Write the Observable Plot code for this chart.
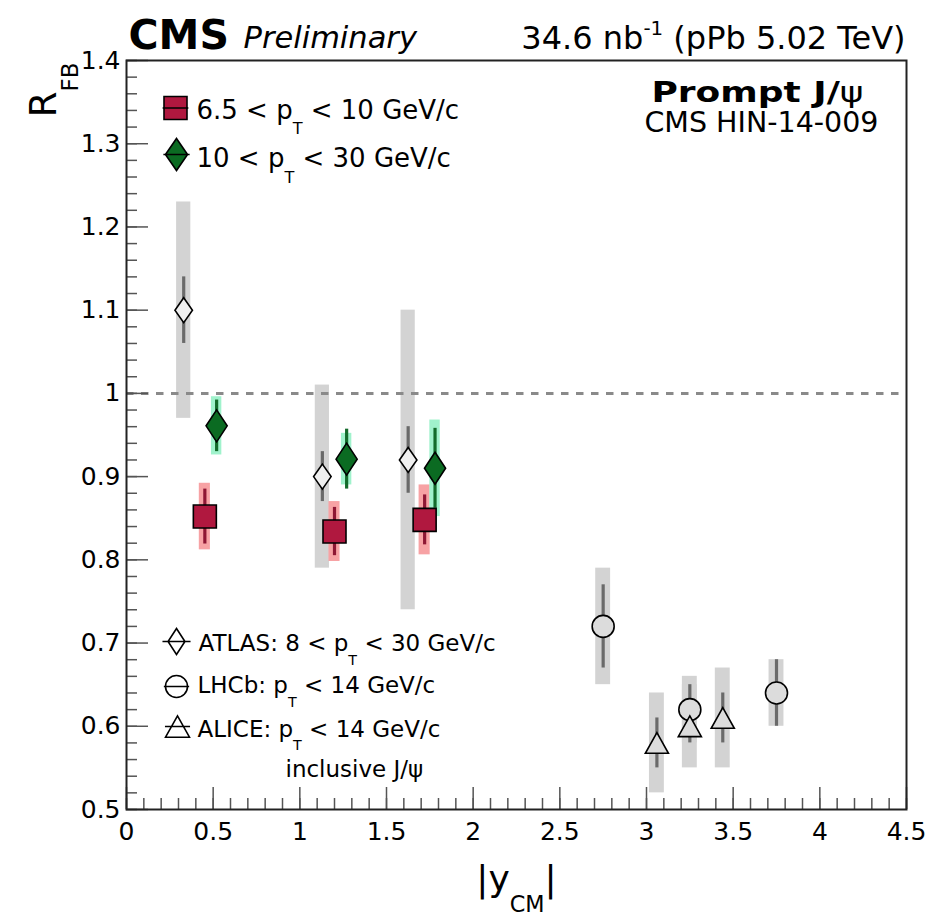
<!DOCTYPE html>
<html>
<head>
<meta charset="utf-8">
<script src="https://cdn.jsdelivr.net/npm/d3@7"></script>
<script src="https://cdn.jsdelivr.net/npm/@observablehq/plot@0.6"></script>
<style>
  body { margin: 0; background: #fff; }
  #chart svg { display: block; }
</style>
</head>
<body>
<div id="chart"></div>
<script>
// R_FB of prompt J/psi versus |y_CM| in pPb collisions at 5.02 TeV

// CMS, 6.5 < pT < 10 GeV/c
const cmsLowY    = [0.452, 1.20, 1.72];
const cmsLowR    = [0.852, 0.834, 0.848];
const cmsLowStat = [0.033, 0.029, 0.030];
const cmsLowSyst = [0.040, 0.036, 0.042];

// CMS, 10 < pT < 30 GeV/c
const cmsHighY    = [0.52, 1.27, 1.78];
const cmsHighR    = [0.961, 0.921, 0.910];
const cmsHighStat = [0.031, 0.036, 0.048];
const cmsHighSyst = [0.035, 0.031, 0.058];

// ATLAS, 8 < pT < 30 GeV/c
const atlasY    = [0.33, 1.13, 1.625];
const atlasR    = [1.10, 0.90, 0.92];
const atlasStat = [0.04, 0.03, 0.04];
const atlasSyst = [0.13, 0.11, 0.18];

// LHCb, pT < 14 GeV/c
const lhcbY    = [2.75, 3.25, 3.75];
const lhcbR    = [0.72, 0.62, 0.64];
const lhcbStat = [0.05, 0.03, 0.04];
const lhcbSyst = [0.07, 0.04, 0.04];

// ALICE, pT < 14 GeV/c, inclusive J/psi
const aliceY    = [3.06, 3.25, 3.44];
const aliceR    = [0.58, 0.60, 0.61];
const aliceStat = [0.03, 0.02, 0.03];
const aliceSyst = [0.06, 0.05, 0.06];

// axis tick labels
const xTickLabels = [0, 0.5, 1, 1.5, 2, 2.5, 3, 3.5, 4, 4.5];
const yTickLabels = [0.5, 0.6, 0.7, 0.8, 0.9, 1, 1.1, 1.2, 1.3, 1.4];

// text
const headerCms = "CMS";
const headerPrelim = "Preliminary";
const headerLumi = "34.6 nb^{-1} (pPb 5.02 TeV)";
const tagPrompt = "Prompt J/ψ";
const tagPaper = "CMS HIN-14-009";
const legendCms = ["6.5 < p_{T} < 10 GeV/c", "10 < p_{T} < 30 GeV/c"];
const legendOther = ["ATLAS: 8 < p_{T} < 30 GeV/c", "LHCb: p_{T} < 14 GeV/c", "ALICE: p_{T} < 14 GeV/c"];
const legendNote = "inclusive J/ψ";
const xTitle = "|y_{CM}|";
const yTitle = "R_{FB}";

const rows = (ys, rs, stat, syst) => ys.map((y, i) => ({y, r: rs[i], stat: stat[i], syst: syst[i]}));
const cmsLow = rows(cmsLowY, cmsLowR, cmsLowStat, cmsLowSyst);
const cmsHigh = rows(cmsHighY, cmsHighR, cmsHighStat, cmsHighSyst);
const atlas = rows(atlasY, atlasR, atlasStat, atlasSyst);
const lhcb = rows(lhcbY, lhcbR, lhcbStat, lhcbSyst);
const alice = rows(aliceY, aliceR, aliceStat, aliceSyst);

// layout
const W = 929, H = 917;
const mL = 126, mR = 23, mT = 60, mB = 108;
const frameW = W - mL - mR, frameH = H - mT - mB;
const font = "DejaVu Sans, Liberation Sans, sans-serif";

// colours
const red = "#b0183f", redBox = "#f7a2a4", redBar = "#8e1734";
const green = "#0b6b22", greenBox = "#a0f2cc", greenBar = "#136b2b";
const grayBox = "#d3d3d3", grayBar = "#6a6a6a";

// ROOT-like marker shapes (size = pi r^2)
const rad = s => Math.sqrt(s / Math.PI);
const square = (bar = 0) => ({draw(c, s) {
  const r = rad(s);
  c.rect(-r, -r, 2 * r, 2 * r);
  if (bar) { c.moveTo(-bar * r, 0); c.lineTo(bar * r, 0); }
}});
const diamond = (w, bar = 0) => ({draw(c, s) {
  const r = rad(s);
  c.moveTo(0, -r); c.lineTo(w * r, 0); c.lineTo(0, r); c.lineTo(-w * r, 0); c.closePath();
  if (bar) { c.moveTo(-bar * r, 0); c.lineTo(bar * r, 0); }
}});
const triangle = (bar = 0) => ({draw(c, s) {
  const r = rad(s);
  c.moveTo(0, -0.94 * r); c.lineTo(1.05 * r, 0.94 * r); c.lineTo(-1.05 * r, 0.94 * r); c.closePath();
  if (bar) { c.moveTo(-bar * r, 0); c.lineTo(bar * r, 0); }
}});
const circle = (bar = 0) => ({draw(c, s) {
  const r = rad(s);
  c.moveTo(r, 0); c.arc(0, 0, r, 0, 2 * Math.PI);
  if (bar) { c.moveTo(-bar * r, 0); c.lineTo(bar * r, 0); }
}});

// systematic boxes, statistical bars and markers
const boxes = (data, half, fill) =>
  Plot.rect(data, {x1: d => d.y - half, x2: d => d.y + half, y1: d => d.r - d.syst, y2: d => d.r + d.syst, fill});
const bars = (data, stroke) =>
  Plot.ruleX(data, {x: "y", y1: d => d.r - d.stat, y2: d => d.r + d.stat, stroke, strokeWidth: 3.2});
const markers = (data, symbol, r, fill) =>
  Plot.dot(data, {x: "y", y: "r", symbol, r, fill, stroke: "black", strokeWidth: 1.6});

const xMinor = d3.range(0, 46).map(i => i / 10);
const yMinor = d3.range(0, 46).map(i => 0.5 + i / 50);

const txt = (s, o) => Plot.text([s], {text: d => d, lineAnchor: "bottom", fill: "black", ...o});

const chart = Plot.plot({
  width: W,
  height: H,
  marginLeft: mL,
  marginRight: mR,
  marginTop: mT,
  marginBottom: mB,
  style: {fontFamily: font, background: "white", color: "black"},
  x: {domain: [0, 4.5]},
  y: {domain: [0.5, 1.4]},
  marks: [
    // systematic uncertainty boxes
    boxes(atlas, 0.041, grayBox),
    boxes(lhcb, 0.043, grayBox),
    boxes(alice, 0.043, grayBox),
    boxes(cmsLow, 0.032, redBox),
    boxes(cmsHigh, 0.03, greenBox),
    // R_FB = 1
    Plot.ruleY([1], {stroke: "#8a8a8a", strokeWidth: 3, strokeDasharray: "7.5,7.5"}),
    // statistical uncertainties
    bars(atlas, grayBar),
    bars(lhcb, grayBar),
    bars(alice, grayBar),
    bars(cmsLow, redBar),
    bars(cmsHigh, greenBar),
    // markers
    markers(atlas, diamond(0.7), 12.5, "#efefef"),
    markers(lhcb, "circle", 11, "#dcdcdc"),
    markers(alice, triangle(), 11, "#dcdcdc"),
    markers(cmsLow, square(), 11.5, red),
    markers(cmsHigh, diamond(0.66), 16, green),
    // inward ticks on the left and bottom edges
    Plot.tickX(xMinor, {x: d => d, insetTop: frameH - 11, stroke: "#555", strokeWidth: 1.5}),
    Plot.tickX(xTickLabels, {x: d => d, insetTop: frameH - 22, stroke: "#555", strokeWidth: 1.5}),
    Plot.tickY(yMinor, {y: d => d, insetRight: frameW - 11, stroke: "#555", strokeWidth: 1.5}),
    Plot.tickY(yTickLabels, {y: d => d, insetRight: frameW - 22, stroke: "#555", strokeWidth: 1.5}),
    Plot.frame({stroke: "#222", strokeWidth: 2}),
    // tick labels
    Plot.axisX(xTickLabels, {tickSize: 0, tickPadding: 13, fontSize: 25, label: null, tickFormat: d => String(d)}),
    Plot.axisY(yTickLabels, {tickSize: 0, tickPadding: 6, fontSize: 25, label: null, tickFormat: d => String(+d.toFixed(1))}),
    // axis titles
    txt(xTitle, {frameAnchor: "bottom", dy: 81, fontSize: 36, textAnchor: "middle"}),
    txt(yTitle, {frameAnchor: "top-left", dx: -71, dy: 2, fontSize: 37, rotate: -90, textAnchor: "end"}),
    // header
    txt(headerCms, {frameAnchor: "top-left", dx: 2, dy: -12, fontSize: 41, fontWeight: "bold", textAnchor: "start"}),
    txt(headerPrelim, {frameAnchor: "top-left", dx: 117, dy: -13, fontSize: 30.5, fontStyle: "italic", textAnchor: "start"}),
    txt(headerLumi, {frameAnchor: "top-right", dx: -1, dy: -12, fontSize: 32, textAnchor: "end"}),
    txt(tagPrompt, {frameAnchor: "top-right", dx: -43, dy: 41, fontSize: 29, fontWeight: "bold", textAnchor: "end"}),
    txt(tagPaper, {frameAnchor: "top-right", dx: -28, dy: 71, fontSize: 28.5, textAnchor: "end"}),
    // CMS legend
    Plot.dot([0], {frameAnchor: "top-left", dx: 49, dy: 47.5, symbol: square(1.12), r: 11.5, fill: red, stroke: "black", strokeWidth: 1.6}),
    Plot.dot([0], {frameAnchor: "top-left", dx: 50, dy: 94, symbol: diamond(0.69, 0.82), r: 16, fill: green, stroke: "black", strokeWidth: 1.6}),
    txt(legendCms[0], {frameAnchor: "top-left", dx: 70, dy: 58.3, fontSize: 26, textAnchor: "start"}),
    txt(legendCms[1], {frameAnchor: "top-left", dx: 70, dy: 106.7, fontSize: 26, textAnchor: "start"}),
    // other experiments legend
    Plot.dot([0], {frameAnchor: "bottom-left", dx: 50, dy: -168, symbol: diamond(0.65, 1.08), r: 13, fill: "white", stroke: "black", strokeWidth: 1.6}),
    Plot.dot([0], {frameAnchor: "bottom-left", dx: 50, dy: -123, symbol: circle(1.15), r: 11, fill: "white", stroke: "black", strokeWidth: 1.6}),
    Plot.dot([0], {frameAnchor: "bottom-left", dx: 51, dy: -83, symbol: triangle(1.1), r: 11.4, fill: "white", stroke: "black", strokeWidth: 1.6}),
    txt(legendOther[0], {frameAnchor: "bottom-left", dx: 72, dy: -158.3, fontSize: 23, textAnchor: "start"}),
    txt(legendOther[1], {frameAnchor: "bottom-left", dx: 71, dy: -116.3, fontSize: 23, textAnchor: "start"}),
    txt(legendOther[2], {frameAnchor: "bottom-left", dx: 71, dy: -73, fontSize: 23, textAnchor: "start"}),
    txt(legendNote, {frameAnchor: "bottom-left", dx: 159, dy: -32.3, fontSize: 23, textAnchor: "start"})
  ]
});

document.getElementById("chart").append(chart);

// turn _{...} and ^{...} into sub- and superscript tspans
function richText(el) {
  const raw = el.textContent;
  if (!/[_^]\{/.test(raw)) return;
  const fs = parseFloat(getComputedStyle(el).fontSize);
  el.textContent = "";
  el.style.whiteSpace = "pre";
  const re = /([_^])\{([^}]*)\}/g;
  let last = 0, shift = 0, m;
  const add = (str, size, target) => {
    const t = document.createElementNS("http://www.w3.org/2000/svg", "tspan");
    const dy = target - shift;
    shift = target;
    if (dy) t.setAttribute("dy", dy);
    if (size) t.setAttribute("font-size", size);
    t.textContent = str;
    el.appendChild(t);
  };
  while ((m = re.exec(raw))) {
    if (m.index > last) add(raw.slice(last, m.index), null, 0);
    add(m[2], fs * 0.62, m[1] === "_" ? fs * 0.6 : -fs * 0.42);
    last = re.lastIndex;
  }
  if (last < raw.length) add(raw.slice(last), null, 0);
}
d3.select(chart).selectAll("text").each(function () { richText(this); });

// the psi of the tag is set upright and light, the tag itself wide
d3.select(chart).selectAll("text").filter(function () { return this.textContent === tagPrompt; })
  .each(function () {
    const el = this;
    el.textContent = "";
    el.style.whiteSpace = "pre";
    const a = document.createElementNS("http://www.w3.org/2000/svg", "tspan");
    a.textContent = tagPrompt.slice(0, -1);
    const b = document.createElementNS("http://www.w3.org/2000/svg", "tspan");
    b.textContent = tagPrompt.slice(-1);
    b.setAttribute("font-weight", "normal");
    el.append(a, b);
    el.setAttribute("textLength", 212);
    el.setAttribute("lengthAdjust", "spacingAndGlyphs");
  });
</script>
</body>
</html>
